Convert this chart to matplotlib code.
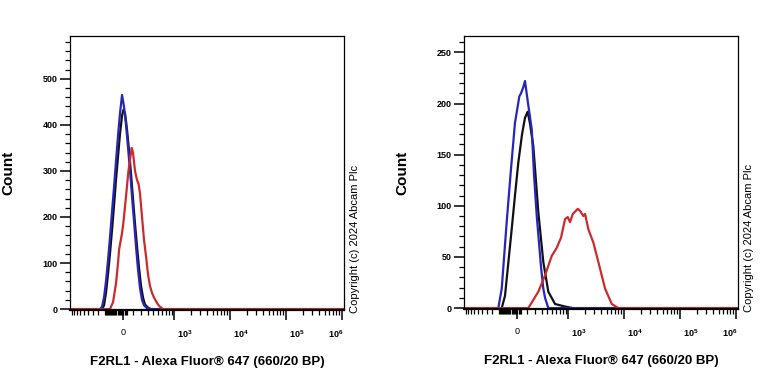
import matplotlib

matplotlib.use('Agg')
import matplotlib.pyplot as plt
from matplotlib.ticker import FixedLocator, NullFormatter
from matplotlib.transforms import ScaledTranslation
import numpy as np

plt.rcParams['font.family'] = ['Liberation Sans', 'DejaVu Sans']
plt.rcParams['mathtext.fontset'] = 'custom'
plt.rcParams['mathtext.rm'] = 'Liberation Sans:bold'
plt.rcParams['mathtext.bf'] = 'Liberation Sans:bold'

# 荧光强度 (Alexa Fluor 647) 与计数, 左图
left_blue_x = [-272, -243, -215, -189, -164, -140, -117, -94, -73, -52, -31, -10, 10, 31, 52, 73, 94, 117, 140, 164, 189, 215, 243, 288, 337]
left_blue_y = [0, 5, 25, 60, 105, 155, 210, 265, 320, 375, 425, 465, 440, 400, 350, 300, 245, 190, 135, 85, 45, 20, 8, 2, 0]
left_black_x = [-243, -215, -189, -164, -140, -117, -94, -73, -52, -31, -10, 5, 21, 41, 62, 83, 105, 128, 152, 176, 202, 229, 257, 304, 355]
left_black_y = [0, 8, 35, 75, 120, 170, 225, 280, 330, 380, 420, 433, 425, 390, 345, 295, 240, 185, 135, 90, 50, 25, 10, 3, 0]
left_red_x = [-140, -105, -73, -51, -40, -10, 4, 31, 54, 73, 91, 105, 128, 152, 170, 189, 215, 243, 272, 304, 337, 373, 411, 452, 496, 544, 622]
left_red_y = [0, 15, 55, 101, 130, 165, 188, 245, 296, 325, 350, 340, 300, 280, 272, 250, 200, 150, 115, 75, 50, 35, 25, 17, 10, 5, 0]

# 右图
right_blue_x = [-211, -167, -109, -65, -21, 24, 41, 65, 83, 117, 160, 189, 225, 247, 288, 325, 355, 417]
right_blue_y = [0, 19, 84, 133, 181, 207, 210, 216, 222, 200, 175, 130, 90, 72, 40, 19, 10, 0]
right_black_x = [-167, -128, -55, -21, 13, 52, 83, 113, 140, 180, 247, 325, 417, 569, 880, 1235]
right_black_y = [0, 12, 77, 110, 142, 170, 186, 192, 180, 158, 94, 45, 16, 4, 1.5, 0]
right_red_x = [120, 247, 355, 489, 614, 741, 880, 987, 1088, 1220, 1503, 1655, 1897, 2037, 2336, 2871, 3528, 4652, 6130, 8043]
right_red_y = [0, 16, 32, 51, 59, 69, 87, 89, 84, 92, 97, 95, 90, 92, 77, 64, 45, 19, 4, 0]

x_ticks = [0, 1e3, 1e4, 1e5, 1e6]
x_tick_labels = ['0', r'$10^3$', r'$10^4$', r'$10^5$', r'$10^6$']
x_label = 'F2RL1 - Alexa Fluor® 647 (660/20 BP)'
copyright_text = 'Copyright (c) 2024 Abcam Plc'

XMIN, XMAX = -1087, 1.1e6
BLUE = '#2626b8'
BLACK = '#111111'
RED = '#cc2b2b'


def x_minor_ticks():
    neg = [-1000, -900, -800, -700, -600, -500, -400, -300]
    blob = list(np.arange(-200, 50, 12))
    pos = [100, 200, 300, 400, 500, 600, 700, 800, 900]
    dec = [k * 10 ** n for n in (3, 4, 5) for k in range(2, 10)]
    return neg + blob + pos + dec


def draw_panel(ax, curves, ymax, y_major, y_minor):
    for xs, ys, c in curves:
        xx = np.concatenate([[XMIN], xs, [XMAX]])
        yy = np.concatenate([[0], ys, [0]])
        ax.plot(xx, yy, color=c, lw=1.6)

    ax.set_xscale('asinh', linear_width=249)
    ax.set_xlim(XMIN, XMAX)
    ax.set_ylim(-2 * ymax / 600, ymax)

    ax.xaxis.set_major_locator(FixedLocator(x_ticks))
    ax.set_xticklabels(x_tick_labels)
    ax.xaxis.set_minor_locator(FixedLocator(x_minor_ticks()))
    ax.xaxis.set_minor_formatter(NullFormatter())
    ax.yaxis.set_major_locator(FixedLocator(y_major))
    ax.yaxis.set_minor_locator(FixedLocator(y_minor))

    ax.tick_params(which='major', direction='out', length=7, width=1.1, labelsize=6.5)
    ax.tick_params(axis='x', which='major', pad=6)
    ax.tick_params(axis='y', which='major', pad=2)
    ax.tick_params(which='minor', direction='out', length=3.5, width=0.9)
    ax.tick_params(top=False, right=False)
    for lab in ax.get_yticklabels():
        lab.set_fontweight('bold')
    # 10^n 标签略微偏右, 10^6 靠右对齐
    shift = ScaledTranslation(3 / 100, 0, ax.figure.dpi_scale_trans)
    labs = ax.get_xticklabels()
    for lab in labs[1:4]:
        lab.set_horizontalalignment('left')
        lab.set_transform(lab.get_transform() + shift)
    labs[4].set_horizontalalignment('right')
    labs[4].set_transform(labs[4].get_transform() + ScaledTranslation(2 / 100, 0, ax.figure.dpi_scale_trans))

    for s in ('top', 'right', 'left'):
        ax.spines[s].set_linewidth(0.9)
    ax.spines['bottom'].set_linewidth(1.6)

    ax.text(0.5, -0.19, x_label, transform=ax.transAxes, ha='center', va='center',
            fontsize=9.5, fontweight='bold')
    ax.text(-0.226, 0.5, 'Count', transform=ax.transAxes, ha='center', va='center',
            rotation=90, fontsize=11, fontweight='bold')
    ax.text(1.04, -0.011, copyright_text, transform=ax.transAxes, ha='center', va='bottom',
            rotation=90, fontsize=8)


fig = plt.figure(figsize=(7.68, 3.84), dpi=100)
ax1 = fig.add_axes([70 / 768, 1 - 310 / 384, 274 / 768, 274 / 384])
ax2 = fig.add_axes([464 / 768, 1 - 309 / 384, 274 / 768, 273 / 384])

draw_panel(ax1,
           [(left_black_x, left_black_y, BLACK),
            (left_blue_x, left_blue_y, BLUE),
            (left_red_x, left_red_y, RED)],
           593, [0, 100, 200, 300, 400, 500], list(range(20, 600, 20)))

draw_panel(ax2,
           [(right_black_x, right_black_y, BLACK),
            (right_blue_x, right_blue_y, BLUE),
            (right_red_x, right_red_y, RED)],
           266, [0, 50, 100, 150, 200, 250], list(range(10, 270, 10)))

fig.savefig('out.png', dpi=100)
